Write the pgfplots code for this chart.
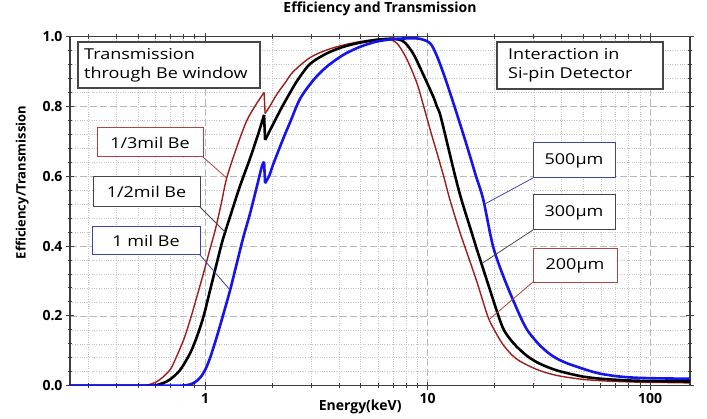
\documentclass[border=0pt]{standalone}
\usepackage{fontspec}
\setmainfont{Open Sans}
\newfontfamily\boxfont[FakeStretch=1.2]{Open Sans}
\usepackage{pgfplots}
\pgfplotsset{compat=1.18}

\definecolor{curvered}{RGB}{160,28,28}
\definecolor{curveblue}{RGB}{20,20,235}
\definecolor{boxred}{RGB}{170,70,65}
\definecolor{boxblue}{RGB}{60,70,170}
\definecolor{boxgray}{RGB}{70,70,70}
\definecolor{axisgray}{RGB}{60,60,60}

\begin{document}
\begin{tikzpicture}
\path[use as bounding box] (0,0) rectangle (707pt,419pt);
\begin{axis}[
  at={(70pt,33.3pt)}, anchor=south west,
  scale only axis, width=620pt, height=349pt,
  xmode=log, xmin=0.247, xmax=151,
  ymin=0, ymax=1,
  xtick={1,10,100}, xticklabels={1,10,100},
  minor xtick={0.3,0.4,0.5,0.6,0.7,0.8,0.9,2,3,4,5,6,7,8,9,20,30,40,50,60,70,80,90},
  ytick={0,0.2,0.4,0.6,0.8,1}, yticklabels={0.0,0.2,0.4,0.6,0.8,1.0},
  minor y tick num=4,
  grid=both,
  major grid style={gray!55, dash pattern=on 7pt off 3pt, line width=0.6pt},
  minor grid style={gray!45, dotted, line width=0.6pt},
  axis line style={axisgray, line width=1.3pt},
  tick align=center, major tick length=8pt, minor tick length=5pt,
  tick style={axisgray, line width=1pt},
  tick label style={font=\fontsize{14}{16}\selectfont\bfseries},
  title={Efficiency and Transmission},
  title style={at={(axis description cs:0.5,1.063)}, anchor=center, font=\fontsize{14}{16}\selectfont\bfseries},
  xlabel={Energy(keV)},
  xlabel style={at={(axis description cs:0.468,-0.061)}, anchor=center, font=\fontsize{14}{16}\selectfont\bfseries},
  ylabel={Efficiency/Transmission},
  ylabel style={at={(axis description cs:-0.077,0.582)}, anchor=center, font=\fontsize{13}{15}\selectfont\bfseries},
  redline/.style={curvered, line width=1.4pt},
  blackline/.style={black, line width=2.6pt},
  blueline/.style={curveblue, line width=2.6pt},
]
% 1/3 mil Be, 200um : below the Si K edge, the edge, above it
\addplot[redline, smooth] coordinates {
  (0.247,0) (0.5,0) (0.55,0.002) (0.6,0.01) (0.65,0.026) (0.7,0.048) (0.733,0.074)
  (0.8,0.131) (0.856,0.188) (0.918,0.255) (0.983,0.322) (1.05,0.39) (1.11,0.446)
  (1.18,0.52) (1.25,0.595) (1.39,0.685) (1.54,0.76) (1.71,0.81) (1.84,0.840)
};
\addplot[redline] coordinates {(1.84,0.840) (1.86,0.78)};
\addplot[redline, smooth] coordinates {
  (1.86,0.78) (1.95,0.80) (2.1,0.835) (2.3,0.870) (2.49,0.900) (2.96,0.940) (3.52,0.962)
  (4.18,0.976) (4.97,0.986) (5.9,0.992) (6.55,0.994) (7.28,0.981) (8.07,0.935) (8.96,0.866)
  (9.6,0.80) (10.3,0.73) (11.0,0.668) (11.8,0.60) (12.6,0.532) (14.0,0.437) (14.7,0.398)
  (16.6,0.3) (18.6,0.2) (20,0.158) (21.8,0.118) (24,0.087) (26,0.07) (28.9,0.055)
  (32,0.043) (36,0.033) (40.6,0.026) (50,0.018) (65,0.013) (90,0.010) (120,0.009) (151,0.008)
};
% 1/2 mil Be, 300um
\addplot[blackline, smooth] coordinates {
  (0.247,0) (0.58,0) (0.607,0.002) (0.65,0.008) (0.696,0.018) (0.772,0.045) (0.856,0.093)
  (0.918,0.14) (0.983,0.198) (1.053,0.274) (1.128,0.351) (1.2,0.418) (1.318,0.50)
  (1.436,0.573) (1.593,0.652) (1.736,0.723) (1.84,0.776)
};
\addplot[blackline] coordinates {(1.84,0.776) (1.86,0.704)};
\addplot[blackline, smooth] coordinates {
  (1.86,0.704) (1.95,0.73) (2.05,0.757) (2.2,0.795) (2.41,0.84) (2.6,0.875) (2.96,0.922)
  (3.52,0.952) (4.18,0.971) (4.97,0.983) (5.9,0.991) (7.0,0.994) (7.8,0.986) (8.6,0.952)
  (9.5,0.895) (10.6,0.828) (11.0,0.80) (11.4,0.775) (12.4,0.68) (13.3,0.6) (14.2,0.532)
  (15.8,0.437) (16.5,0.398) (18.5,0.3) (20.8,0.2) (22,0.16) (23.5,0.133) (25.3,0.11)
  (28,0.085) (31,0.067) (34.4,0.054) (38,0.044) (43,0.035) (50,0.026) (60,0.02)
  (80,0.015) (110,0.013) (151,0.012)
};
% 1 mil Be, 500um
\addplot[blueline, smooth] coordinates {
  (0.247,0) (0.75,0) (0.8,0.0007) (0.85,0.003) (0.9,0.01) (0.95,0.023) (1.0,0.045)
  (1.053,0.08) (1.128,0.14) (1.21,0.207)
  (1.295,0.274) (1.388,0.351) (1.487,0.427) (1.593,0.494) (1.707,0.570) (1.797,0.627)
  (1.84,0.642)
};
\addplot[blueline] coordinates {(1.84,0.642) (1.86,0.58)};
\addplot[blueline, smooth] coordinates {
  (1.86,0.58) (1.95,0.605) (2.03,0.637) (2.25,0.71) (2.41,0.755) (2.67,0.822)
  (3.07,0.876) (3.52,0.914) (4.18,0.948) (4.97,0.971) (5.9,0.986) (7.0,0.993) (8,0.995)
  (9.2,0.994) (10.26,0.981) (11.0,0.945) (12,0.88) (13.2,0.80) (14.8,0.70) (16.5,0.6)
  (17.8,0.532) (19.7,0.398) (22.3,0.3) (26,0.2) (28,0.16) (30,0.135) (32,0.115)
  (35,0.093) (38,0.078) (42,0.065) (47,0.054) (55,0.04) (60,0.034) (71,0.027)
  (85,0.023) (110,0.021) (151,0.02)
};
\coordinate (lr) at (axis cs:1.25,0.595);
\coordinate (lk) at (axis cs:1.23,0.44);
\coordinate (lb) at (axis cs:1.295,0.274);
\coordinate (l500) at (axis cs:18,0.52);
\coordinate (l300) at (axis cs:17.5,0.35);
\coordinate (l200) at (axis cs:18.9,0.19);
\end{axis}

\begin{scope}[x=1pt,y=-1pt,shift={(0pt,419pt)},
  lab/.style={font=\boxfont\fontsize{15}{19}\selectfont, inner sep=0pt}]
  % big boxes
  \draw[boxgray, line width=1.3pt, fill=white] (78,42) rectangle (260,88);
  \node[lab, anchor=west, align=left] at (84,65) {Transmission\\through Be window};
  \draw[boxgray, line width=1.3pt, fill=white] (497,42) rectangle (663,89);
  \node[lab, anchor=west, align=left] at (508,65.5) {Interaction in\\Si-pin Detector};
  % leader lines
  \draw[boxred, line width=0.8pt] (203,157) -- (lr);
  \draw[boxgray, line width=0.8pt] (200,207) -- (lk);
  \draw[boxblue, line width=0.8pt] (200,255) -- (lb);
  \draw[boxblue, line width=0.8pt] (533,178) -- (l500);
  \draw[boxgray, line width=0.8pt] (533,230) -- (l300);
  \draw[boxred, line width=0.8pt] (533,282) -- (l200);
  % window labels
  \draw[boxred, line width=1pt, fill=white] (97,128) rectangle (203,157);
  \node[lab] at (150,142.5) {1/3mil Be};
  \draw[boxgray, line width=1pt, fill=white] (93,177) rectangle (200,207);
  \node[lab] at (146.5,192) {1/2mil Be};
  \draw[boxblue, line width=1pt, fill=white] (92,227) rectangle (200,255);
  \node[lab] at (146,241) {1 mil Be};
  % detector labels
  \draw[boxblue, line width=1pt, fill=white] (533,143) rectangle (615,178);
  \node[lab] at (574,160.5) {500μm};
  \draw[boxgray, line width=1pt, fill=white] (533,195) rectangle (615,230);
  \node[lab] at (574,212.5) {300μm};
  \draw[boxred, line width=1pt, fill=white] (533,249) rectangle (617,283);
  \node[lab] at (575,266) {200μm};
\end{scope}
\end{tikzpicture}
\end{document}
